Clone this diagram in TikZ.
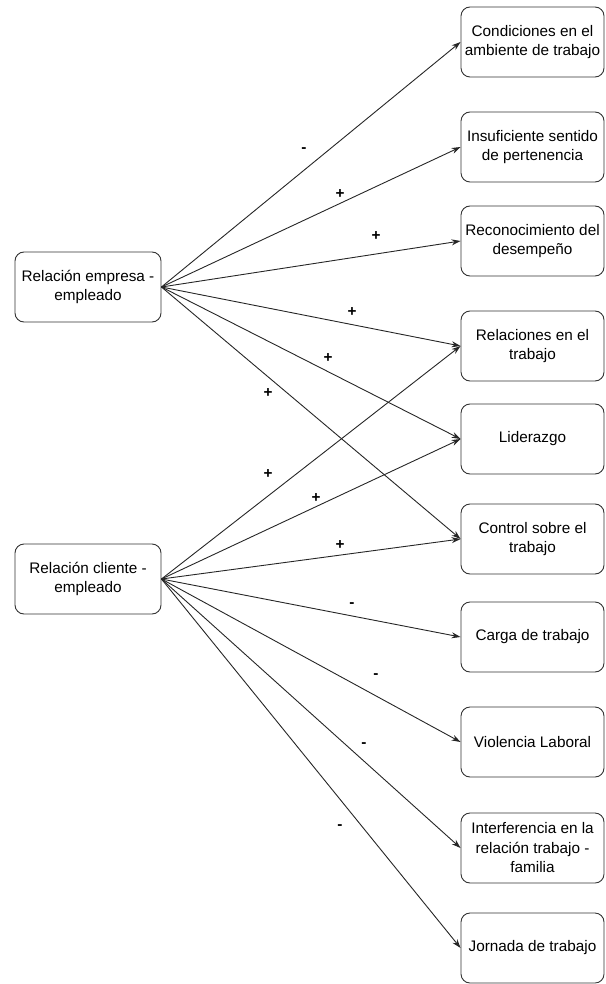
\documentclass[tikz,border=0pt]{standalone}
\usepackage{fontspec}
\setmainfont{Liberation Sans}
\usetikzlibrary{arrows.meta}
\begin{document}
\begin{tikzpicture}[x=1pt,y=-1pt,
  box/.style={draw=black!80, line width=0.9pt, rounded corners=9pt, align=center,
    font=\fontsize{15.3}{19.5}\selectfont, inner sep=0pt},
  lbox/.style={box, minimum width=146pt, minimum height=70pt},
  rbox/.style={box, minimum width=143pt, minimum height=70pt},
  arr/.style={draw=black!85, line width=0.9pt, -{Stealth[length=9pt,width=6pt]}},
  sign/.style={font=\fontsize{15.3}{18}\selectfont\bfseries, inner sep=0pt}]
\useasboundingbox (0,0) rectangle (605,984);
\node[lbox] (e) at (88,287) {Relación empresa -\\empleado};
\node[lbox] (c) at (88,579) {Relación cliente -\\empleado};
\node[rbox] (r1) at (532.5,42) {Condiciones en el\\ambiente de trabajo};
\node[rbox] (r2) at (532.5,147) {Insuficiente sentido\\de pertenencia};
\node[rbox] (r3) at (532.5,241) {Reconocimiento del\\desempeño};
\node[rbox] (r4) at (532.5,346) {Relaciones en el\\trabajo};
\node[rbox] (r5) at (532.5,439) {Liderazgo};
\node[rbox] (r6) at (532.5,539) {Control sobre el\\trabajo};
\node[rbox] (r7) at (532.5,637) {Carga de trabajo};
\node[rbox] (r8) at (532.5,742) {Violencia Laboral};
\node[rbox] (r9) at (532.5,848) {Interferencia en la\\relación trabajo -\\familia};
\node[rbox] (r10) at (532.5,948) {Jornada de trabajo};
\foreach \t in {r1,r2,r3,r4,r5,r6} \draw[arr] (e.east) -- (\t.west);
\foreach \t in {r4,r5,r6,r7,r8,r9,r10} \draw[arr] (c.east) -- (\t.west);
\node[sign] (s1) at (304,150) {-};
\node[sign] (s2) at (340,194) {+};
\node[sign] (s3) at (376,236) {+};
\node[sign] (s4) at (352,312) {+};
\node[sign] (s5) at (328,358) {+};
\node[sign] (s6) at (268,393) {+};
\node[sign] (s7) at (268,474) {+};
\node[sign] (s8) at (316,498) {+};
\node[sign] (s9) at (340,545) {+};
\node[sign] (s10) at (352,605) {-};
\node[sign] (s11) at (376,676) {-};
\node[sign] (s12) at (364,745) {-};
\node[sign] (s13) at (340,827) {-};
\end{tikzpicture}
\end{document}
